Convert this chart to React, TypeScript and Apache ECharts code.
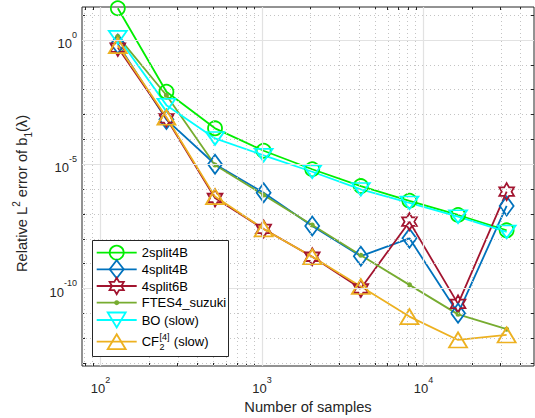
import React, { useEffect, useRef } from 'react';
import * as echarts from 'echarts';

// ---------- data ----------
const samples = [128, 256, 512, 1024, 2048, 4096, 8192, 16384, 32768];
const err2split4B = [19, 8.3e-3, 2.8e-4, 3.5e-5, 6.3e-6, 1.33e-6, 3.4e-7, 9.1e-8, 2.2e-8];
const err4split4B = [0.7, 6.3e-4, 1.0e-5, 7.2e-7, 3.3e-8, 2.0e-9, 1.05e-8, 1.0e-11, 2.1e-7];
const err4split6B = [0.5, 7.1e-4, 4.4e-7, 2.5e-8, 1.9e-9, 1.0e-10, 4.9e-8, 2.4e-11, 7.9e-7];
const errFTES4 = [1.4, 6.0e-3, 9.3e-6, 5.8e-7, 3.6e-8, 2.2e-9, 1.4e-10, 9.1e-12, 2.3e-12];
const errBO = [1.3, 2.4e-3, 1.1e-4, 2.3e-5, 5.0e-6, 9.8e-7, 2.8e-7, 7.8e-8, 1.9e-8];
const errCF = [0.6, 7.8e-4, 5.0e-7, 2.5e-8, 1.9e-9, 1.2e-10, 7.4e-12, 8.5e-13, 1.35e-12];

const seriesNames = ['2split4B', '4split4B', '4split6B', 'FTES4_suzuki', 'BO (slow)', 'CF2[4] (slow)'];

const xMajorTicks = [100, 1000, 10000];
const xMinorTicks = [80, 90, 200, 300, 400, 500, 600, 700, 800, 900, 2000, 3000, 4000, 5000, 6000, 7000, 8000, 9000, 20000, 30000, 40000];
const yMajorTicks = [1e-10, 1e-5, 1];
const yMinorTicks = [10, 1e-1, 1e-2, 1e-3, 1e-4, 1e-6, 1e-7, 1e-8, 1e-9, 1e-11, 1e-12, 1e-13];

const X_RANGE = [76.8, 48400];
const Y_RANGE = [7.6e-14, 21.4];

// ---------- styling ----------
const FONT = '"Liberation Sans", Arial, Helvetica, sans-serif';
const TXT = '#262626';
const COLORS = ['#00ee00', '#0072BD', '#A2142F', '#77AC30', '#00FFFF', '#EDB120'];
const LW = 1.8;
const lg = (v: number) => Math.log10(v);

const HEX_PTS: number[][] = [
  [10, 0], [12.887, 5], [18.66, 5], [15.774, 10], [18.66, 15], [12.887, 15],
  [10, 20], [7.113, 15], [1.34, 15], [4.226, 10], [1.34, 5], [7.113, 5],
];
const HEXAGRAM = 'path://' + HEX_PTS.map((p, i) => (i ? 'L' : 'M') + p[0] + ',' + p[1]).join('') + 'Z';
const TRI_DOWN = 'path://M0,0L20,0L10,17Z';
// small dot inside a 16x16 box (corner specks fix the box size)
const SMALL_DOT = 'path://M0,0L0.01,0L0,0.01Z M16,16L15.99,16L16,15.99Z M5.5,8A2.5,2.5,0,1,0,10.5,8A2.5,2.5,0,1,0,5.5,8Z';

const tickRich = {
  b: { fontSize: 13, lineHeight: 20, verticalAlign: 'bottom', color: TXT, fontFamily: FONT },
  s: { fontSize: 9, lineHeight: 9, verticalAlign: 'top', color: TXT, fontFamily: FONT },
};
const powLabel = (v: number) => `{b|10}{s|${Math.round(v)}}`;

// ---------- hand-drawn legend (MATLAB style box) ----------
function buildLegend() {
  const box = { x: 92.5, y: 240.5, w: 136, h: 116 };
  const rowsY = [252.7, 269.3, 286, 302.7, 320, 341.7];
  const x1 = 96.7;
  const x2 = 136.7;
  const cx = (x1 + x2) / 2;
  const tx = 141.7;
  const els: any[] = [
    {
      type: 'rect',
      shape: { x: box.x, y: box.y, width: box.w, height: box.h },
      style: { fill: '#fff', stroke: TXT, lineWidth: 1 },
      z: 100,
      silent: true,
    },
  ];
  const hollowStyle = (c: string) => ({ fill: 'rgba(0,0,0,0)', stroke: c, lineWidth: LW });
  rowsY.forEach((cy, i) => {
    const c = COLORS[i];
    els.push({
      type: 'line',
      shape: { x1, y1: cy, x2, y2: cy },
      style: { stroke: c, lineWidth: LW },
      z: 101,
      silent: true,
    });
    let marker: any;
    if (i === 0) marker = { type: 'circle', shape: { cx, cy, r: 7 }, style: hollowStyle(c) };
    else if (i === 1)
      marker = {
        type: 'polygon',
        shape: { points: [[cx, cy - 9], [cx + 7, cy], [cx, cy + 9], [cx - 7, cy]] },
        style: hollowStyle(c),
      };
    else if (i === 2)
      marker = {
        type: 'polygon',
        shape: { points: HEX_PTS.map((p) => [cx + (p[0] - 10) * 0.82, cy + (p[1] - 10) * 0.82]) },
        style: hollowStyle(c),
      };
    else if (i === 3) marker = { type: 'circle', shape: { cx, cy, r: 2.5 }, style: { fill: c } };
    else if (i === 4)
      marker = {
        type: 'polygon',
        shape: { points: [[cx - 9, cy - 7.5], [cx + 9, cy - 7.5], [cx, cy + 7.5]] },
        style: hollowStyle(c),
      };
    else
      marker = {
        type: 'polygon',
        shape: { points: [[cx, cy - 7.5], [cx + 9, cy + 7.5], [cx - 9, cy + 7.5]] },
        style: hollowStyle(c),
      };
    els.push({ ...marker, z: 102, silent: true });

    const textBase = { fontSize: 13, fontFamily: FONT, fill: '#000', align: 'left', verticalAlign: 'middle' };
    if (i < 5) {
      els.push({ type: 'text', x: tx, y: cy, style: { ...textBase, text: seriesNames[i] }, z: 103, silent: true });
    } else {
      // CF with stacked subscript 2 and superscript [4]
      els.push({ type: 'text', x: tx, y: cy, style: { ...textBase, text: 'CF' }, z: 103, silent: true });
      els.push({ type: 'text', x: tx + 17.8, y: cy + 5.5, style: { ...textBase, fontSize: 9, text: '2' }, z: 103, silent: true });
      els.push({ type: 'text', x: tx + 17.8, y: cy - 5, style: { ...textBase, fontSize: 9, text: '[4]' }, z: 103, silent: true });
      els.push({ type: 'text', x: tx + 28.5, y: cy, style: { ...textBase, text: ' (slow)' }, z: 103, silent: true });
    }
  });
  return els;
}

function App() {
  const ref = useRef<HTMLDivElement>(null);
  useEffect(() => {
    if (!ref.current) return;
    const chart = echarts.init(ref.current, undefined, { renderer: 'svg' });

    const xMin = lg(X_RANGE[0]);
    const xMax = lg(X_RANGE[1]);
    const yMin = lg(Y_RANGE[0]);
    const yMax = lg(Y_RANGE[1]);

    const xAxisBase = (position: string, ticks: number[], len: number, labels: boolean, extra: any = {}) => ({
      type: 'value',
      min: xMin,
      max: xMax,
      position,
      axisLine: { show: false, onZero: false },
      axisTick: { show: true, inside: true, length: len, customValues: ticks.map(lg), lineStyle: { color: TXT, width: 1 } },
      axisLabel: labels
        ? { show: true, customValues: ticks.map(lg), formatter: powLabel, rich: tickRich, margin: 9 }
        : { show: false },
      splitLine: { show: false },
      ...extra,
    });
    const yAxisBase = (position: string, ticks: number[], len: number, labels: boolean, extra: any = {}) => ({
      type: 'value',
      min: yMin,
      max: yMax,
      position,
      axisLine: { show: false, onZero: false },
      axisTick: { show: true, inside: true, length: len, customValues: ticks.map(lg), lineStyle: { color: TXT, width: 1 } },
      axisLabel: labels
        ? { show: true, customValues: ticks.map(lg), formatter: powLabel, rich: tickRich, margin: 5 }
        : { show: false },
      splitLine: { show: false },
      ...extra,
    });

    const mk = (data: number[]) => data.map((v, i) => [lg(samples[i]), lg(v)]);

    const hollow = (name: string, data: number[], color: string, symbol: string, size: any) => ({
      name,
      type: 'line',
      data: mk(data),
      color,
      symbol,
      symbolSize: size,
      symbolKeepAspect: true,
      showAllSymbol: true,
      lineStyle: { color, width: LW },
      itemStyle: { color: 'rgba(0,0,0,0)', borderColor: color, borderWidth: LW },
      emphasis: { disabled: true },
      z: 3,
    });

    const gridLines = {
      name: '__grid',
      type: 'line',
      data: [[xMin, yMin]],
      symbol: 'none',
      lineStyle: { opacity: 0 },
      silent: true,
      z: 1,
      markLine: {
        silent: true,
        symbol: ['none', 'none'],
        label: { show: false },
        emphasis: { disabled: true },
        data: [
          ...xMinorTicks.map((v) => ({ xAxis: lg(v), lineStyle: { color: '#c4c4c4', width: 1, type: [1, 3] } })),
          ...yMinorTicks.map((v) => ({ yAxis: lg(v), lineStyle: { color: '#c4c4c4', width: 1, type: [1, 3] } })),
          ...xMajorTicks.map((v) => ({ xAxis: lg(v), lineStyle: { color: '#e2e2e2', width: 1.2, type: 'solid' } })),
          ...yMajorTicks.map((v) => ({ yAxis: lg(v), lineStyle: { color: '#e2e2e2', width: 1.2, type: 'solid' } })),
        ],
      },
    };

    const option: any = {
      animation: false,
      backgroundColor: '#fff',
      grid: {
        left: 82,
        right: 1,
        top: 7,
        bottom: 52,
        show: true,
        borderColor: TXT,
        borderWidth: 1,
        backgroundColor: '#fff',
        outerBoundsMode: 'none',
        containLabel: false,
      },
      xAxis: [
        xAxisBase('bottom', xMajorTicks, 5, true, {
          name: 'Number of samples',
          nameLocation: 'middle',
          nameGap: 33,
          nameTextStyle: { fontSize: 14.7, color: TXT, fontFamily: FONT },
        }),
        xAxisBase('bottom', xMinorTicks, 3, false),
        xAxisBase('top', xMajorTicks, 5, false),
        xAxisBase('top', xMinorTicks, 3, false),
      ],
      yAxis: [
        yAxisBase('left', yMajorTicks, 5, true, {
          name: '{n|Relative L}{sup|2}{n| error of b}{sub|1}{n|(λ)}',
          nameLocation: 'middle',
          nameGap: 49,
          nameRotate: 90,
          nameTextStyle: {
            fontSize: 14.7,
            color: TXT,
            fontFamily: FONT,
            padding: [0, 14, 0, 0],
            rich: {
              n: { fontSize: 14.7, lineHeight: 22, color: TXT, fontFamily: FONT },
              sup: { fontSize: 10, lineHeight: 10, verticalAlign: 'top', color: TXT, fontFamily: FONT },
              sub: { fontSize: 10, lineHeight: 10, verticalAlign: 'bottom', color: TXT, fontFamily: FONT },
            },
          },
        }),
        yAxisBase('left', yMinorTicks, 3, false),
        yAxisBase('right', yMajorTicks, 5, false),
        yAxisBase('right', yMinorTicks, 3, false),
      ],
      graphic: buildLegend(),
      series: [
        gridLines,
        hollow(seriesNames[0], err2split4B, COLORS[0], 'circle', 14),
        hollow(seriesNames[1], err4split4B, COLORS[1], 'diamond', [14, 19]),
        hollow(seriesNames[2], err4split6B, COLORS[2], HEXAGRAM, 17),
        {
          name: seriesNames[3],
          type: 'line',
          data: mk(errFTES4),
          color: COLORS[3],
          symbol: SMALL_DOT,
          symbolSize: 16,
          showAllSymbol: true,
          lineStyle: { color: COLORS[3], width: LW },
          itemStyle: { color: COLORS[3], borderWidth: 0 },
          emphasis: { disabled: true },
          z: 3,
        },
        hollow(seriesNames[4], errBO, COLORS[4], TRI_DOWN, [18, 15]),
        hollow(seriesNames[5], errCF, COLORS[5], 'triangle', [18, 15]),
      ],
    };

    chart.setOption(option);
    return () => chart.dispose();
  }, []);

  return <div ref={ref} style={{ position: 'absolute', left: 0, top: 0, width: 535, height: 418 }} />;
}

export default App;
